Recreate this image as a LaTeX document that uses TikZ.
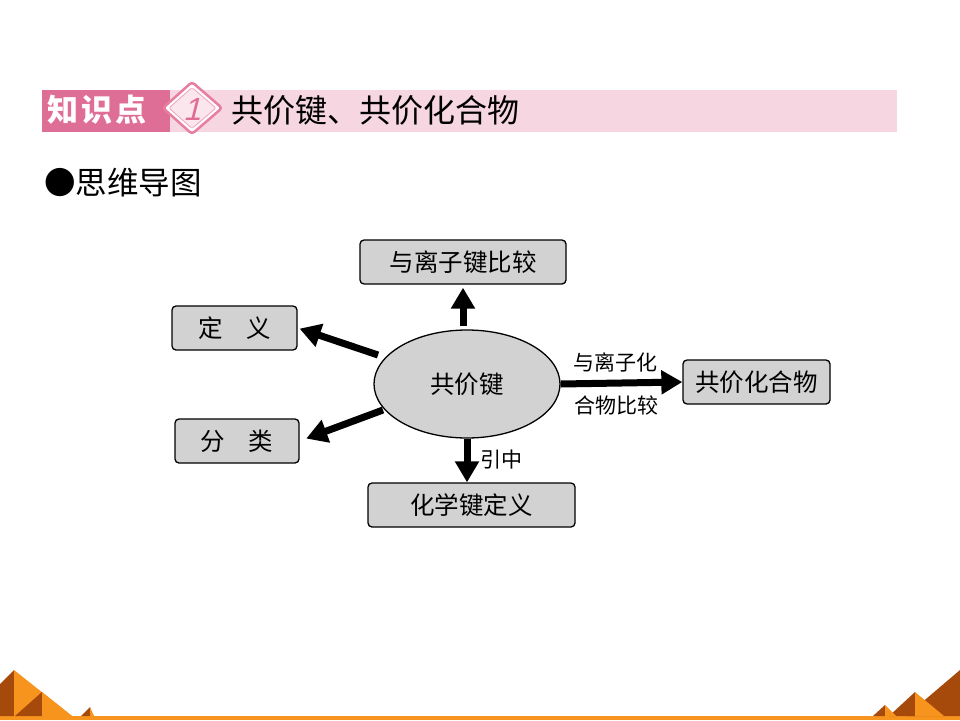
\documentclass[tikz,border=0pt]{standalone}
\usepackage{fontspec}
\setmainfont{Noto Sans CJK SC}
\newfontfamily\numfont[FakeSlant=0.25]{Liberation Sans}
\usetikzlibrary{shapes.geometric,arrows.meta,calc}
\definecolor{boxgray}{RGB}{210,210,210}
\definecolor{pinkdark}{RGB}{223,110,150}
\definecolor{pinklight}{RGB}{246,214,224}
\definecolor{pinkline}{RGB}{232,125,160}
\definecolor{pyrorange}{RGB}{247,148,30}
\definecolor{pyrdark}{RGB}{166,74,12}
\tikzset{
  cbox/.style={draw, line width=1.3pt, rounded corners=4pt, fill=boxgray,
    inner sep=0pt, minimum height=44pt, font=\fontsize{24.5}{24.5}\selectfont},
  bigarrow/.style={line width=7pt, -{Triangle[length=21pt,width=23pt]}},
  lbl/.style={inner sep=0pt, font=\fontsize{21}{21}\selectfont},
  orangeface/.style={fill=pyrorange},
  darkface/.style={fill=pyrdark}
}
\begin{document}
\begin{tikzpicture}[x=1pt,y=-1pt]
\useasboundingbox (0,0) rectangle (960,720);
\fill[white] (0,0) rectangle (960,720);
% header bar
\fill[pinklight] (42,90) rectangle (897,132);
\fill[pinkdark] (42,90) rectangle (170,132);
\filldraw[fill=white, draw=pinkline, line width=2.5pt, rounded corners=3pt]
  (163,108) -- (192,82) -- (222,108) -- (192,134) -- cycle;
\filldraw[fill=pinklight!60!white, draw=pinkline!70!white, line width=0.8pt, rounded corners=2pt]
  (169,108) -- (192,87.5) -- (216,108) -- (192,128.5) -- cycle;
\node[inner sep=0pt, text=pinkdark, font=\fontsize{32}{32}\numfont] (num) at (192,109) {1};
\node[anchor=west, inner sep=0pt, text=white, font=\fontsize{31}{31}\selectfont\bfseries] (kp) at (47,110) {知\hspace{3pt}识\hspace{3pt}点};
\node[anchor=west, inner sep=0pt, font=\fontsize{32}{32}\selectfont] (title) at (231,110) {共价键、共价化合物};
\node[anchor=west, inner sep=0pt, font=\fontsize{31.5}{31.5}\selectfont] (sub) at (44,183) {●思维导图};
% diagram
\node[ellipse, draw, line width=1.3pt, fill=boxgray, minimum width=186pt, minimum height=108pt, inner sep=0pt,
  font=\fontsize{24.5}{24.5}\selectfont] (ell) at (467,384) {共价键};
\node[cbox, minimum width=206pt] (cmpion) at (463,262) {与离子键比较};
\node[cbox, minimum width=125pt] (def) at (234.5,328) {定\hspace{0.95em}义};
\node[cbox, minimum width=124pt] (cls) at (237,441) {分\hspace{0.95em}类};
\node[cbox, minimum width=207pt] (chem) at (471.5,505) {化学键定义};
\node[cbox, minimum width=147pt] (comp) at (756.5,382) {共价化合物};
\coordinate (tdef) at (378,355);
\coordinate (tcls) at (383,410);
\draw[bigarrow, shorten <=3pt, shorten >=3pt] (ell.north -| cmpion.south) -- (cmpion.south);
\draw[bigarrow, shorten >=2pt] (tdef) -- (def.east);
\draw[bigarrow, shorten >=7pt] (tcls) -- (cls.east);
\draw[bigarrow] (ell.east) -- (comp.west);
\draw[bigarrow] (ell.south) -- (ell.south |- chem.north);
\node[lbl] (l1) at (615,362) {与离子化};
\node[lbl] (l2) at (616,405) {合物比较};
\node[lbl] (l3) at (501,460) {引中};
% bottom decoration
\fill[pyrorange] (0,716) rectangle (960,720);
\fill[darkface] (0,684) -- (14,670) -- (14,716) -- (0,716) -- cycle;
\fill[orangeface] (14,670) -- (72,716) -- (14,716) -- cycle;
\fill[darkface] (15,716) -- (42,692) -- (42,716) -- cycle;
\fill[orangeface] (42,692) -- (72,716) -- (42,716) -- cycle;
\fill[darkface] (81,716) -- (90,707) -- (90,716) -- cycle;
\fill[orangeface] (90,707) -- (94,716) -- (90,716) -- cycle;
\fill[darkface] (960,670) -- (906,716) -- (960,716) -- cycle;
\fill[darkface] (889,716) -- (915,692) -- (915,716) -- cycle;
\fill[orangeface] (915,692) -- (944,716) -- (915,716) -- cycle;
\fill[darkface] (873,716) -- (885,705) -- (885,716) -- cycle;
\fill[orangeface] (885,705) -- (896,716) -- (885,716) -- cycle;
\end{tikzpicture}
\end{document}
